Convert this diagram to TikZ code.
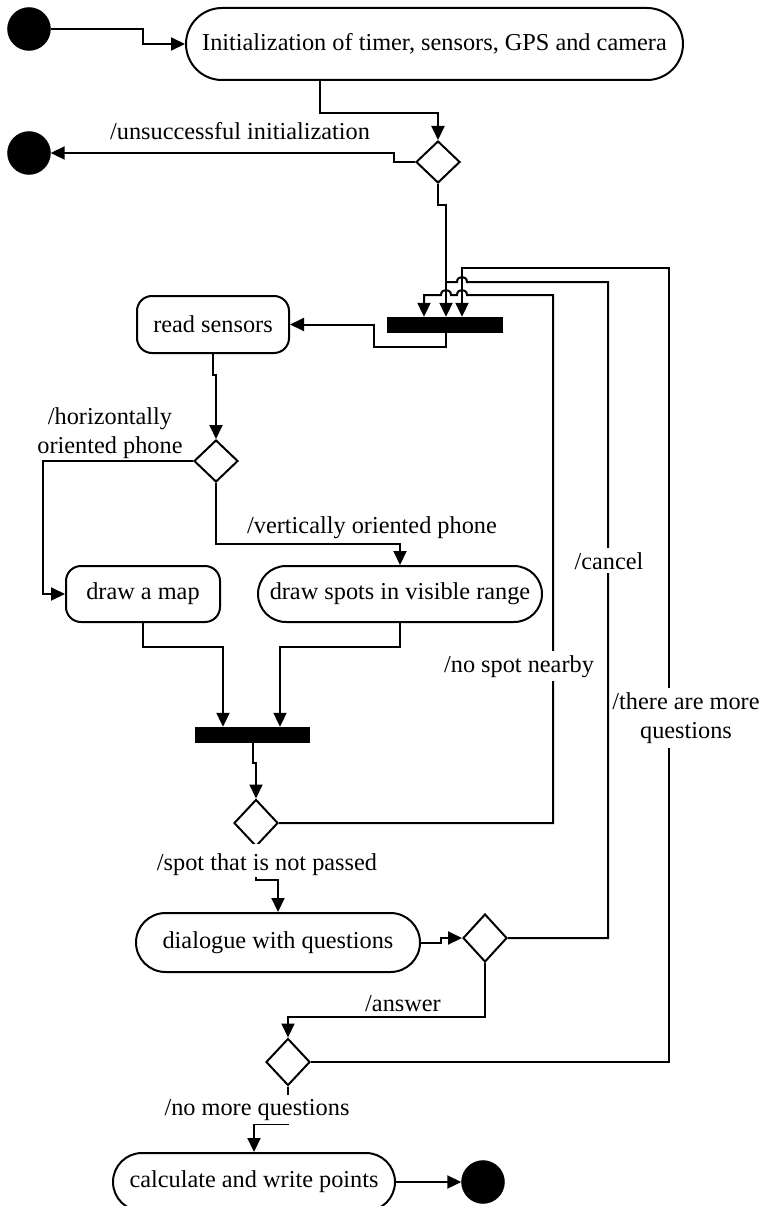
\documentclass[tikz,border=0pt]{standalone}
\usepackage{fontspec}
\setmainfont{Liberation Serif}
\usetikzlibrary{shapes.misc,shapes.geometric,arrows.meta,calc}
\begin{document}
\begin{tikzpicture}[x=1pt,y=-1pt,
  every node/.style={font=\fontsize{24.3}{29}\selectfont},
  line/.style={line width=2pt},
  arr/.style={line width=2pt,-{Triangle[length=14pt,width=13pt]}},
  act/.style={draw,line width=2pt,rounded corners=15pt,inner sep=0pt},
  stad/.style={draw,line width=2pt,rounded rectangle,inner sep=0pt},
  dec/.style={draw,line width=2pt,diamond,inner sep=0pt,minimum width=44pt,minimum height=42pt},
  bar/.style={fill=black,inner sep=0pt,minimum width=116pt,minimum height=16pt},
  dot/.style={circle,fill=black,draw=black,inner sep=0pt,minimum size=43pt},
  lab/.style={inner sep=2pt,align=center},
  labw/.style={fill=white,inner xsep=2pt,inner ysep=4pt,align=center}
]
\useasboundingbox (0,0) rectangle (761,1206);

% nodes
\node[dot] (start) at (29,29) {};
\node[stad,minimum width=497pt,minimum height=72pt] (init) at (434.5,44) {Initialization of timer, sensors, GPS and camera};
\node[dec] (d1) at (438,162) {};
\node[dot] (end1) at (29,153) {};
\node[bar] (bar1) at (445,325) {};
\node[act,minimum width=152pt,minimum height=57pt] (read) at (213,324.5) {read sensors};
\node[dec] (d2) at (216,461) {};
\node[act,minimum width=154pt,minimum height=56pt] (map) at (143,594) {draw a map};
\node[stad,minimum width=284pt,minimum height=56pt] (spots) at (400,594) {draw spots in visible range};
\node[bar,minimum width=115pt] (bar2) at (252.5,735) {};
\node[dec,minimum height=47pt] (d3) at (256,823) {};
\node[stad,minimum width=284pt,minimum height=59pt] (dlg) at (278,942.5) {dialogue with questions};
\node[dec,minimum height=48pt] (d4) at (485,938) {};
\node[dec,minimum height=47pt] (d5) at (288,1062) {};
\node[stad,minimum width=282pt,minimum height=58pt] (calc) at (254,1182) {calculate and write points};
\node[dot] (end2) at (483,1182) {};

% bend coordinates
\coordinate (b1) at (143,29);
\coordinate (b2) at (320,113);
\coordinate (b3) at (394,153);
\coordinate (b4) at (446,205);
\coordinate (b5) at (374,347);
\coordinate (b6) at (213,375);
\coordinate (b7) at (43,594);
\coordinate (b8) at (216,544);
\coordinate (b9) at (223,647);
\coordinate (b10) at (280,647);
\coordinate (b11) at (253,763);
\coordinate (b12) at (553,295);
\coordinate (b13) at (424,295);
\coordinate (b14) at (608,282);
\coordinate (b15) at (669,268);
\coordinate (b16) at (462,268);
\coordinate (b17) at (256,880);
\coordinate (b18) at (278,880);
\coordinate (b19) at (485,1017);
\coordinate (b20) at (288,1124);
\coordinate (b21) at (254,1124);

% connectors
\draw[arr] (start.east) -- (b1) |- (init.west);
\draw[arr] (init.south -| b2) -- (b2) -| (d1.north);
\draw[arr] (d1.west) -| (b3) -- (end1.east);
\draw[arr] (d1.south) |- (b4) -- (b4 |- bar1.north);
\draw[arr] (bar1.south -| b4) |- (b5) |- (read.east);
\draw[arr] (read.south) -- (b6) -| (d2.north);
\draw[arr] (d2.west) -| (b7) -- (map.west);
\draw[arr] (d2.south) -- (b8) -| (spots.north);
\draw[arr] (map.south) |- (b9) -- (b9 |- bar2.north);
\draw[arr] (spots.south) |- (b10) -- (b10 |- bar2.north);
\draw[arr] (bar2.south -| b11) -- (b11) -| (d3.north);
% loops back to the fork bar
\draw[arr] (d5.east) -| (b15) -- (b16) -- (b16 |- bar1.north);
\draw[line] (d4.east) -| (b14) -- (467,282) .. controls (467,275.3) and (457,275.3) .. (457,282) -- (b4 |- b14);
\draw[arr] (d3.east) -| (b12) -- (467,295) .. controls (467,288.3) and (457,288.3) .. (457,295) -- (451,295) .. controls (451,288.3) and (441,288.3) .. (441,295) -- (b13) -- (b13 |- bar1.north);
% lower part
\draw[arr] (d3.south) -- (b17) -- (b18) -- (dlg.north);
\draw[arr] (dlg.east) -- ++(20,0) |- (d4.west);
\draw[arr] (d4.south) -- (b19) -| (d5.north);
\draw[arr] (d5.south) -- (b20) -- (b21) -- (calc.north);
\draw[arr] (calc.east) -- (end2.west);

% labels
\node[lab,anchor=base] (l1) at (240,140) {/unsuccessful initialization};
\node[lab] (l2) at (110,433) {/horizontally\\oriented phone};
\node[lab,anchor=base] (l3) at (372,533) {/vertically oriented phone};
\node[labw,anchor=base] (l4) at (519,672) {/no spot nearby};
\node[labw,anchor=base] (l5) at (609,569) {/cancel};
\node[labw] (l6) at (686,718) {/there are more\\questions};
\node[labw,anchor=base,inner ysep=2pt,text height=24pt] (l7) at (267,870) {/spot that is not passed};
\node[labw,anchor=base] (l8) at (403,1011) {/answer};
\node[labw,anchor=base] (l9) at (257,1115) {/no more questions};
\end{tikzpicture}
\end{document}
